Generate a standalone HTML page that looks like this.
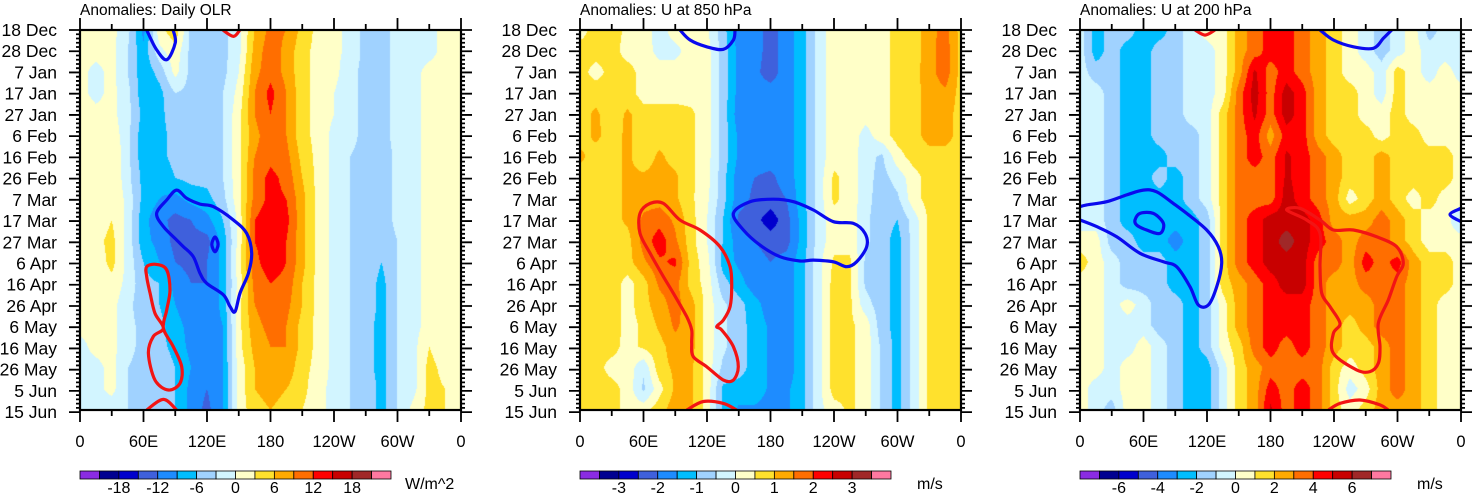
<!DOCTYPE html>
<html><head><meta charset="utf-8">
<style>
body{margin:0;background:#fff;width:1473px;height:495px;overflow:hidden;position:relative;font-family:"Liberation Sans",sans-serif}
canvas{position:absolute}
svg{position:absolute;left:0;top:0}
</style></head>
<body>
<canvas id="c0" width="381" height="380" style="left:80px;top:30px"></canvas>
<canvas id="c1" width="381" height="380" style="left:580px;top:30px"></canvas>
<canvas id="c2" width="381" height="380" style="left:1080px;top:30px"></canvas>
<svg id="s" width="1473" height="495"></svg>
<script>
const dateLabels=["18 Dec","28 Dec","7 Jan","17 Jan","27 Jan","6 Feb","16 Feb","26 Feb","7 Mar","17 Mar","27 Mar","6 Apr","16 Apr","26 Apr","6 May","16 May","26 May","5 Jun","15 Jun"];
const lonLabels=["0","60E","120E","180","120W","60W","0"];
const titles=["Anomalies: Daily OLR","Anomalies: U at 850 hPa","Anomalies: U at 200 hPa"];
const units=["W/m^2","m/s","m/s"];
const steps=[3,0.5,1];
const cbLabels=[["-18","-12","-6","0","6","12","18"],["-3","-2","-1","0","1","2","3"],["-6","-4","-2","0","2","4","6"]];
const palette=["#8a2be2","#000090","#0000cd","#3f60dc","#1e8cff","#00beff","#a0d2ff","#d2f5ff","#ffffc8","#ffe12d","#ffaa00","#ff6e00","#ff0000","#c80000","#a02828","#ff78a0"];
const olr=[
[1,1,1,-2,-10,2,5,-4,-4,-4,-1,6,10,9,5,2,1,-1,-4,-4,-2,-1,-1,1,1],
[1,1,1,-3,-8,-1,2,-4,-4,-4,-1,7,11,8,4,2,1,-1,-4,-4,-2,-1,-1,1,1],
[1,-1,1,-3,-8,-5,1,-4,-4,-4,0,8,11,8,4,2,1,-2,-4,-4,-2,-1,1,1,1],
[1,-1,1,-2,-8,-7,-3,-4,-4,-3,1,9,13,9,4,2,0,-2,-4,-4,-2,-1,1,2,1],
[2,1,1,-2,-7,-7,-4,-4,-4,-3,2,9,12,9,4,2,0,-2,-4,-4,-2,-1,1,3,1],
[3,1,2,-2,-8,-7,-5,-5,-5,-3,2,8,11,9,4,2,-1,-2,-4,-4,-2,-1,1,3,1],
[3,1,3,-2,-8,-7,-5,-5,-5,-3,2,9,11,10,5,2,-1,-3,-4,-5,-2,-1,1,2,1],
[2,1,3,-2,-7,-8,-6,-5,-5,-3,2,10,13,11,6,2,-1,-3,-4,-5,-2,-1,1,2,1],
[1,1,3,-1,-7,-9,-10,-8,-7,-4,2,10,13,12,7,2,-1,-3,-4,-5,-2,-1,1,2,1],
[3,1,3,-1,-8,-11,-13,-12,-10,-6,1,12,14,13,7,2,-1,-3,-4,-5,-2,-1,1,2,3],
[3,2,4,-1,-8,-10,-13,-13,-13,-8,1,12,14,12,7,2,-1,-3,-4,-5,-3,-1,1,2,1],
[2,1,4,-1,-6,-9,-12,-13,-12,-8,2,11,14,12,7,2,-1,-3,-4,-6,-3,-1,1,1,1],
[1,1,2,-1,-5,-6,-10,-12,-12,-8,1,10,12,11,6,2,-1,-3,-4,-7,-3,-1,1,1,1],
[1,1,1,-2,-5,-6,-9,-11,-12,-8,2,9,11,10,6,2,-1,-3,-4,-7,-3,-1,1,1,1],
[1,1,1,-2,-4,-5,-8,-10,-11,-9,2,8,10,9,5,2,-1,-3,-5,-7,-3,-1,1,1,1],
[-1,1,1,-2,-4,-5,-7,-10,-12,-9,2,7,9,9,5,2,-1,-3,-5,-7,-3,-1,3,1,1],
[-1,-1,1,-3,-4,-4,-6,-9,-11,-9,1,6,8,8,4,2,-1,-3,-5,-7,-3,-1,4,2,1],
[-1,-1,1,-3,-4,-4,-6,-10,-12,-9,1,6,7,6,4,1,-1,-3,-4,-7,-3,-1,4,3,1],
[-1,-1,-2,-3,-4,-4,-6,-10,-13,-9,1,5,6,5,3,1,-1,-3,-4,-7,-3,1,4,3,1]];
const u850=[
[0.3,0.7,0.7,0.4,0.3,-0.3,0.3,0.3,0.1,-0.8,-1.7,-1.8,-2.2,-1.8,-1.2,-0.3,0.3,0.3,0.3,0.3,0.7,0.7,1.3,1.7,0.8],
[0.7,0.7,0.7,0.3,0.3,-0.2,-0.2,0.3,0.2,-0.7,-1.7,-1.8,-2.2,-1.8,-1.2,-0.3,0.3,0.3,0.3,0.3,0.7,0.7,1.3,1.8,0.8],
[0.7,0.3,0.7,0.7,0.3,0.3,0.3,0.3,0.2,-0.7,-1.7,-1.9,-2.2,-1.8,-1.2,-0.3,0.3,0.3,0.3,0.3,0.7,0.8,1.3,1.8,0.8],
[0.7,0.8,0.7,0.7,0.3,0.3,0.3,0.3,0.2,-0.7,-1.7,-1.8,-1.8,-1.8,-1.2,-0.3,0.3,0.3,0.2,0.3,0.7,0.8,1.2,1.4,0.8],
[0.8,1.1,0.7,1.1,0.7,0.7,0.7,0.6,0.2,-0.7,-1.8,-1.8,-1.8,-1.8,-1.2,-0.3,0.3,0.3,0.2,0.3,0.7,0.8,1.2,1.2,0.8],
[0.8,1.1,0.8,1.1,0.7,0.8,0.7,0.6,0.2,-0.7,-1.6,-1.8,-1.8,-1.8,-1.2,-0.3,0.3,0.3,-0.2,0.3,0.7,0.8,1.2,1.2,0.8],
[1.1,0.8,0.8,1.1,0.7,1.1,0.8,0.6,0.2,-0.7,-1.6,-1.8,-1.8,-1.8,-1.2,-0.3,0.3,0.3,-0.3,-0.6,0.3,0.7,0.8,0.8,0.8],
[0.8,0.8,0.8,1.1,1.1,1.2,1.1,0.6,0.2,-0.8,-1.8,-2.0,-2.1,-1.8,-1.2,-0.3,0.6,0.3,-0.3,-0.7,-0.3,0.3,0.7,0.8,0.8],
[0.8,0.8,0.8,1.1,1.3,1.3,1.1,0.6,0.1,-0.8,-1.8,-2.1,-2.2,-2.0,-1.2,-0.3,0.6,0.3,-0.3,-0.8,-0.6,0.3,0.7,0.8,0.8],
[0.8,0.8,0.8,1.1,1.6,1.8,1.4,0.7,0.0,-1.0,-2.1,-2.3,-2.8,-2.2,-1.3,-0.3,0.3,0.3,-0.4,-0.8,-1.0,-0.3,0.6,0.8,0.8],
[0.8,0.8,0.8,0.8,1.7,2.3,1.6,0.7,0.0,-1.0,-1.8,-2.0,-2.2,-2.2,-1.3,-0.3,0.3,0.3,-0.4,-0.8,-1.2,-0.3,0.6,0.8,0.8],
[0.8,0.8,0.8,0.8,1.4,1.9,2.1,0.8,0.2,-1.2,-1.6,-1.8,-2.0,-1.8,-1.2,-0.2,0.6,0.6,-0.6,-0.8,-1.2,-0.3,0.6,0.8,0.8],
[0.8,0.8,0.8,0.3,0.8,1.6,1.7,0.8,0.3,-0.8,-1.3,-1.8,-1.8,-1.8,-1.2,-0.2,0.7,0.6,-0.6,-0.8,-1.2,-0.3,0.6,0.8,0.8],
[0.8,0.8,0.8,0.3,0.8,1.3,1.7,1.2,0.3,-0.4,-0.8,-1.3,-1.8,-1.8,-1.2,-0.2,0.7,0.6,-0.3,-0.8,-1.2,-0.3,0.6,0.8,0.8],
[0.8,0.8,0.8,0.3,0.6,1.1,1.6,1.2,0.3,-0.4,-0.8,-1.2,-1.6,-1.8,-1.2,-0.2,0.7,0.6,0.3,-0.8,-1.2,-0.3,0.6,0.8,0.8],
[0.8,0.7,0.7,0.3,0.6,0.8,1.3,1.2,0.3,-0.4,-0.8,-1.2,-1.6,-1.8,-1.2,-0.2,0.7,0.6,0.3,-0.6,-1.2,-0.3,0.6,0.8,0.8],
[0.8,0.7,0.3,0.3,-0.4,0.8,1.1,1.1,0.3,-0.6,-0.8,-1.2,-1.6,-1.8,-1.2,-0.2,0.7,0.6,0.3,-0.6,-1.2,-0.3,0.6,0.8,0.8],
[0.8,0.7,0.7,0.3,-0.6,0.3,1.1,1.1,0.3,-1.1,-1.2,-1.2,-1.6,-1.6,-1.2,-0.2,0.7,0.6,0.3,-0.6,-1.2,-0.3,0.6,0.8,0.8],
[0.8,0.7,0.7,0.3,0.3,0.8,1.3,1.1,0.3,-1.1,-1.6,-1.6,-1.7,-1.6,-1.2,-0.2,0.3,0.6,0.3,-0.6,-1.2,-0.3,0.6,0.8,0.8]];
const u200=[
[-0.5,-2.5,-1.5,-1.5,-2.5,-2.5,-1.5,-0.5,0.5,0.5,2.5,3.5,4.5,4.5,3.5,2.5,1.5,0.5,-0.5,-1.5,-0.5,0.5,-1.5,-0.5,-0.5],
[-0.5,-2.5,-1.5,-2.5,-2.5,-1.5,-1.5,-0.5,-0.5,0.5,2.5,3.5,4.5,4.5,3.5,2.5,1.5,0.5,-0.5,-1.5,-0.5,0.5,-0.5,-0.5,-0.5],
[-0.5,-1.5,-1.5,-2.5,-2.5,-1.5,-1.5,-0.5,-0.5,0.5,2.5,5.2,3.5,4.5,3.5,2.5,1.5,0.5,0.5,-0.5,1.5,0.5,-0.5,0.5,-0.5],
[-0.5,-0.5,-1.5,-2.5,-2.5,-1.5,-1.5,-0.5,-0.5,0.5,3.5,5.5,3.5,5.5,4.5,2.5,1.5,1.5,0.5,-0.5,1.5,0.5,0.5,0.5,0.5],
[-0.5,-0.5,-1.5,-2.5,-2.5,-1.5,-1.5,-0.5,-0.5,1.5,3.5,5.2,3.5,5.5,4.5,2.5,1.5,1.5,0.5,0.5,1.5,0.5,0.5,0.5,0.5],
[-0.5,-0.5,-1.5,-2.5,-2.5,-1.5,-1.5,-1.5,-0.5,1.5,3.5,4.5,2.5,4.5,4.5,2.5,1.5,1.5,1.5,0.5,1.5,1.5,0.5,0.5,0.5],
[-0.5,-0.5,-1.5,-2.5,-2.5,-2.5,-1.5,-1.5,-0.5,1.5,3.5,4.5,3.5,5.2,4.5,3.5,2.5,1.5,1.5,2.5,1.5,1.5,1.5,1.5,0.5],
[-0.5,-0.5,-1.5,-2.5,-2.5,-1.5,-2.5,-1.5,-0.5,1.5,3.5,3.5,3.5,5.2,4.5,3.5,2.5,1.5,1.5,2.5,1.5,1.5,1.5,1.5,0.5],
[-0.5,-0.5,-1.5,-2.5,-2.5,-2.5,-2.5,-1.5,-0.5,1.5,3.5,3.5,3.5,5.5,4.5,3.5,2.5,0.5,1.5,2.5,1.5,0.5,1.5,0.5,0.5],
[-0.5,-0.5,-1.5,-2.5,-2.5,-2.5,-2.5,-2.5,-1.5,1.5,3.5,4.5,5.5,5.5,5.5,4.5,2.5,2.5,2.5,3.5,2.5,1.5,0.5,0.5,-1],
[0.5,0.5,-1.5,-1.5,-2.5,-2.5,-3.5,-2.5,-1.5,1.5,3.5,4.5,5.5,6.5,5.5,4.5,3.5,2.5,3.5,3.5,2.5,1.5,0.5,0.5,0.5],
[1.5,0.5,-0.5,-1.5,-1.5,-1.5,-2.5,-2.5,-1.5,1.5,3.5,4.5,5.5,5.5,5.5,3.5,3.5,2.5,4.5,3.5,4.5,2.5,1.5,1.5,0.5],
[0.5,0.5,-0.5,-1.5,-1.5,-1.5,-2.5,-2.5,-1.5,1.5,2.5,3.5,4.5,5.5,5.5,3.5,2.5,2.5,3.5,3.5,3.5,2.5,1.5,1.5,0.5],
[0.5,0.5,-0.5,0.5,-0.5,-1.5,-1.5,-2.5,-1.5,0.5,2.5,3.5,4.5,4.5,4.5,3.5,2.5,2.5,2.5,3.5,3.5,2.5,1.5,0.5,0.5],
[0.5,0.5,-0.5,-0.5,-0.5,-1.5,-1.5,-2.5,-1.5,0.5,2.5,3.5,4.5,4.5,4.5,3.5,2.5,1.5,2.5,3.5,3.5,2.5,1.5,0.5,0.5],
[0.5,0.5,-0.5,-0.5,0.5,-0.5,-1.5,-2.5,-1.5,0.5,1.5,3.5,4.5,3.5,4.5,3.5,2.5,1.5,1.5,2.5,3.5,2.5,1.5,0.5,0.5],
[0.5,0.5,-0.5,0.5,0.5,-0.5,-1.5,-2.5,-2.5,-0.5,1.5,2.5,3.5,3.5,3.5,3.5,1.5,0.5,1.5,2.5,3.5,2.5,1.5,0.5,0.5],
[0.5,-0.5,-0.5,0.5,0.5,-0.5,-1.5,-2.5,-2.5,-0.5,1.5,2.5,4.5,3.5,4.5,3.5,1.5,-0.5,0.5,2.5,3.5,2.5,1.5,0.5,0.5],
[0.5,-0.5,-1.5,0.5,0.5,-0.5,-1.5,-2.5,-2.5,-0.5,1.5,2.5,5.2,3.5,4.5,3.5,1.5,0.5,1.5,2.5,2.5,2.5,1.5,0.5,0.5]];
// contours: [lon, day] vertices
const olrBlueTop=[[63,0],[72,9],[82,14],[90,6],[88,0]];
const olrRedTop=[[135,0],[145,3],[151,0]];
const olrBlueBig=[[72.4,86.4],[81.9,80.1],[91.3,75.4],[100.8,79.3],[113.4,82],[126,83.2],[144.9,89.5],[157.5,95.8],[162.2,105.2],[159.1,114.6],[151.2,124],[146.5,132.7],[141.8,130.3],[135.5,124.8],[119.7,119.3],[113.4,114.6],[107.1,106.8],[97.7,102.1],[91.3,98.9],[78.8,92.6]];
const olrBlueSmall=[[124.5,101],[127.6,97.5],[130.5,101],[127.6,104.5]];
const olrRed8=[[63,111.5],[72.4,110.4],[81.9,113],[85,122.5],[81.9,131.9],[78.8,140.5],[88.2,149.2],[96.1,158.6],[94.5,166.4],[83.5,169.6],[70.9,164.9],[64.6,152.3],[69.3,144.4],[78.8,140.5],[70.9,133.5],[66.2,124],[63,116.2]];
const olrRedBot=[[63,179],[78.8,174],[91.3,179]];
const u8BlueTop=[[94.5,0],[104,4.7],[119.7,7.9],[135.5,9.1],[144.9,4.7],[146.5,0]];
const u8RedBig=[[56.7,86.4],[66.2,81.7],[78.8,81.7],[94.5,89.5],[113.4,94.2],[132.3,102.1],[141.8,111.5],[143.3,120.9],[141.8,130.3],[135.5,136.6],[129.2,139.7],[133.9,141.3],[144.9,149.2],[149.6,158.6],[144.9,164.9],[135.5,164.9],[119.7,158.6],[107.1,153.9],[105.5,147.6],[105.5,141.3],[100.8,135],[88.2,124],[78.8,116.2],[66.2,105.2],[56.7,95.8]];
const u8RedBot=[[100.8,179],[116.6,175],[135.5,175.9],[148,179]];
const u8BlueBig=[[144.9,86.4],[160.6,80.9],[182.7,79.7],[201.6,80.9],[220.5,84.8],[239.4,90.3],[258.3,91.1],[269.3,95.8],[270.9,102.1],[261.4,109.2],[252,111.5],[239.4,109.2],[220.5,108.4],[207.9,108.8],[189,106.8],[170.1,101.3],[154.4,94.2]];
const u2RedTop=[[108.7,0],[118.1,2.4],[127.6,0]];
const u2BlueTop=[[226.8,0],[239.4,4.7],[258.3,7.9],[277.2,8.6],[286.7,3.9],[294.5,0]];
const u2BlueBig=[[0,83.2],[6.3,82.4],[25.2,80.9],[44.1,77.7],[59.8,75.4],[72.4,76.2],[88.2,81.7],[100.8,86.4],[119.7,94.2],[130.7,102.1],[133.9,109.9],[129.2,120.9],[121.3,129.5],[111.8,129.5],[103.9,120.9],[91.3,111.5],[78.8,109.2],[56.7,105.2],[34.7,97.4],[15.8,92.6],[0,89.5]];
const u2BlueLoop=[[52,89.5],[56.7,86.4],[69.3,86.4],[78.8,91.1],[75.6,95.8],[63,94.2],[53.6,91.9]];
const u2BlueEdge=[[360,84],[349.6,86.9],[360,90.3]];
const u2RedBig=[[195.3,84.8],[207.9,84],[226.8,89.5],[239.4,94.2],[258.3,94.2],[280.3,97.4],[299.2,102.1],[305.5,109.9],[299.2,116.2],[291.3,127.2],[281.9,138.2],[283.5,149.2],[281.9,157],[274,160.9],[261.4,160.1],[239.4,152.3],[239.4,142.9],[245.7,138.2],[236.2,130.3],[228.4,124],[226.8,111.5],[226.8,95.8],[214.2,89.5]];
const u2RedBot=[[234.7,179],[245.7,175.9],[264.6,174.3],[283.5,176.6],[291.3,179]];

const grids=[olr,u850,u200];
const contours=[
 [[olrBlueTop,"b",0],[olrRedTop,"r",0],[olrBlueBig,"b",1],[olrBlueSmall,"b",1],[olrRed8,"r",1],[olrRedBot,"r",0]],
 [[u8BlueTop,"b",0],[u8RedBig,"r",1],[u8RedBot,"r",0],[u8BlueBig,"b",1]],
 [[u2RedTop,"r",0],[u2BlueTop,"b",0],[u2BlueBig,"b",0],[u2BlueLoop,"b",1],[u2BlueEdge,"b",0],[u2RedBig,"r",1],[u2RedBot,"r",0]]];

const PW=381,PH=380,PY=30,NDAYS=179;
function px0(p){return 80+500*p;}
function xScale(p,lon){return px0(p)+lon/360*PW;}
function yScale(day){return PY+day/NDAYS*PH;}
function colorIndex(v,step){return Math.max(0,Math.min(15,Math.floor(v/step)+8));}

function hex(c){return [parseInt(c.slice(1,3),16),parseInt(c.slice(3,5),16),parseInt(c.slice(5,7),16)];}
const rgb=palette.map(hex);

grids.forEach((g,p)=>{
  const cv=document.getElementById('c'+p),ctx=cv.getContext('2d');
  const img=ctx.createImageData(PW,PH);
  const nr=g.length,nc=g[0].length;
  for(let y=0;y<PH;y++){
    const fy=(y+0.5)/PH*(nr-1),r0=Math.min(nr-2,Math.floor(fy)),ty=fy-r0;
    for(let x=0;x<PW;x++){
      const fx=(x+0.5)/PW*(nc-1),c0=Math.min(nc-2,Math.floor(fx)),tx=fx-c0;
      const v=(g[r0][c0]*(1-tx)+g[r0][c0+1]*tx)*(1-ty)+(g[r0+1][c0]*(1-tx)+g[r0+1][c0+1]*tx)*ty;
      const col=rgb[colorIndex(v,steps[p])];
      const i=(y*PW+x)*4;img.data[i]=col[0];img.data[i+1]=col[1];img.data[i+2]=col[2];img.data[i+3]=255;
    }
  }
  ctx.putImageData(img,0,0);
});

const svg=document.getElementById('s');const NS="http://www.w3.org/2000/svg";
function mk(tag,attrs,parent){const e=document.createElementNS(NS,tag);for(const k in attrs)e.setAttribute(k,attrs[k]);(parent||svg).appendChild(e);return e;}
function smooth(pts,closed){
  const n=pts.length;let d="M"+pts[0][0].toFixed(1)+","+pts[0][1].toFixed(1);
  const get=i=>closed?pts[(i+n)%n]:pts[Math.max(0,Math.min(n-1,i))];
  const last=closed?n:n-1;
  for(let i=0;i<last;i++){
    const p0=get(i-1),p1=get(i),p2=get(i+1),p3=get(i+2);
    const c1=[p1[0]+(p2[0]-p0[0])/6,p1[1]+(p2[1]-p0[1])/6],c2=[p2[0]-(p3[0]-p1[0])/6,p2[1]-(p3[1]-p1[1])/6];
    d+="C"+c1.map(v=>v.toFixed(1)).join(",")+" "+c2.map(v=>v.toFixed(1)).join(",")+" "+p2[0].toFixed(1)+","+p2[1].toFixed(1);
  }
  return d+(closed?"Z":"");
}
const defs=mk('defs',{});
for(let p=0;p<3;p++){
  const cp=mk('clipPath',{id:'clip'+p},defs);mk('rect',{x:px0(p),y:PY,width:PW,height:PH},cp);
  const g=mk('g',{'clip-path':'url(#clip'+p+')'});
  
  
  contours[p].forEach((c,i)=>{
    const pts=c[0].map(q=>[xScale(p,q[0]),yScale(q[1])]);
    const e=mk('path',{d:smooth(pts,c[2]===1),fill:'none',stroke:c[1]==="b"?"#0a0aee":"#f21414",'stroke-width':3.2,'stroke-linejoin':'round'},g);
    
    
  });
  const fr=mk('rect',{x:px0(p),y:PY,width:PW,height:PH,fill:'none',stroke:'#000','stroke-width':2.2});
  
  
  const t=mk('text',{x:px0(p),y:15,'font-size':15.5,fill:'#000'});t.textContent=titles[p];
  
  
  let tk="";
  for(let d=0;d<=NDAYS;d+=2){const y=yScale(d);tk+=`M${px0(p)-4},${y}H${px0(p)}M${px0(p)+PW},${y}h4`;}
  dateLabels.forEach((lab,i)=>{const y=yScale(i*10);tk+=`M${px0(p)-11},${y}H${px0(p)}M${px0(p)+PW},${y}h11`;
    const tx=mk('text',{x:px0(p)-23,y:y+6,'font-size':17.5,'text-anchor':'end'});tx.textContent=lab;
    
    });
  for(let l=0;l<=360;l+=30){const x=xScale(p,l);const L=(l%60===0)?12:6;tk+=`M${x},${PY}v-${L}M${x},${PY+PH}v${L}`;}
  lonLabels.forEach((lab,i)=>{const tx=mk('text',{x:xScale(p,i*60),y:447,'font-size':16.5,'text-anchor':'middle'});tx.textContent=lab;
    
    });
  const tp=mk('path',{d:tk,stroke:'#000','stroke-width':1.8,fill:'none'});
  
  
  const bw=311/16;
  palette.forEach((c,i)=>{const r=mk('rect',{x:px0(p)+i*bw,y:471,width:bw,height:8,fill:c,stroke:'#000','stroke-width':0.8});
    
    });
  cbLabels[p].forEach((lab,i)=>{const tx=mk('text',{x:px0(p)+(2+2*i)*bw,y:493,'font-size':16,'text-anchor':'middle'});tx.textContent=lab;
    
    });
  const u=mk('text',{x:p===0?px0(p)+325:px0(p)+337,y:489,'font-size':16});u.textContent=units[p];
  
  
}
</script>
</body></html>
